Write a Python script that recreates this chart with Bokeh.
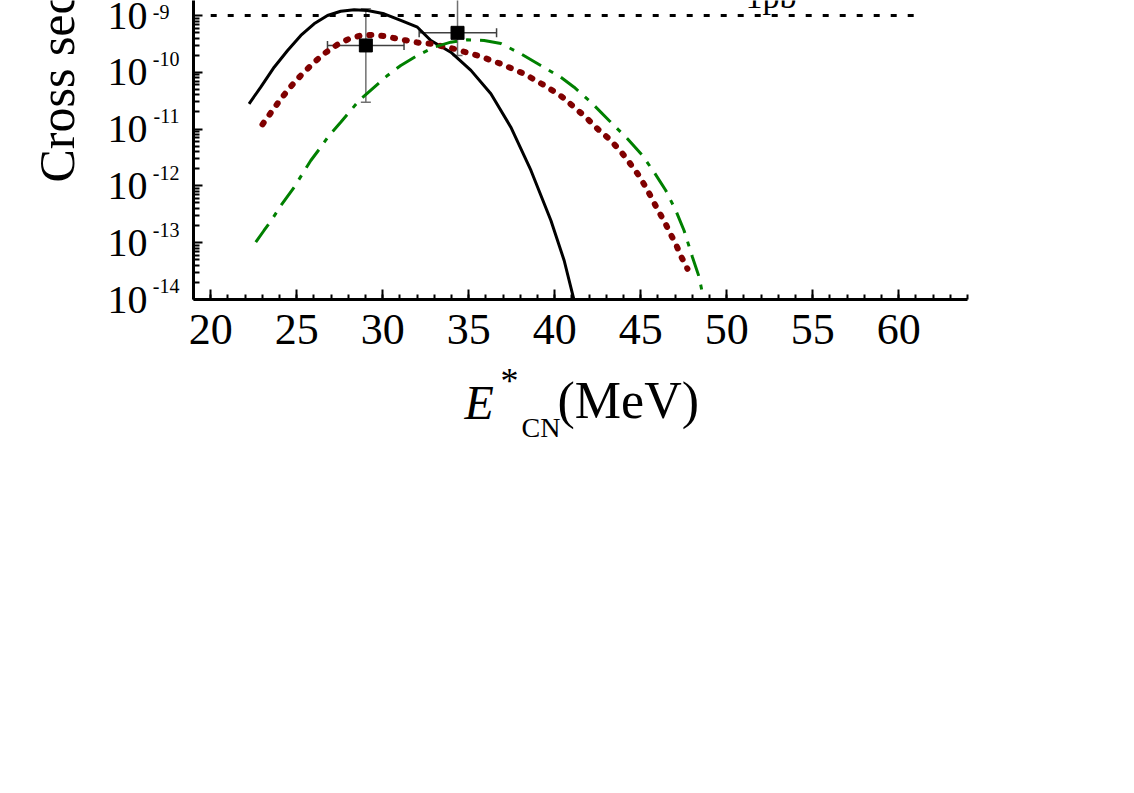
import math
from bokeh.plotting import figure
from bokeh.layouts import row, column
from bokeh.models import (Range1d, FixedTicker, CustomJSTickFormatter, Label, LogAxis,
                          LogScale, ColumnDataSource, Whisker, TeeHead)
from bokeh.core.properties import value
from bokeh.embed import file_html
from bokeh.resources import INLINE

# ---------------- data ----------------
black_x = [22.23, 22.91, 23.69, 24.47, 25.24, 26.01, 26.79, 27.56, 28.34, 29.12, 30.08,
           31.05, 32.02, 32.80, 33.96, 35.13, 36.29, 37.45, 38.62, 39.78, 40.55, 41.13]
black_y = [2.79e-11, 5.47e-11, 1.23e-10, 2.42e-10, 4.45e-10, 7.14e-10, 1.00e-9, 1.19e-9,
           1.26e-9, 1.22e-9, 1.07e-9, 8.17e-10, 6.22e-10, 3.63e-10, 2.26e-10, 1.08e-10,
           4.18e-11, 1.08e-11, 1.87e-12, 2.46e-13, 4.86e-14, 9.6e-15]

red_x = [23.01, 23.59, 24.08, 24.66, 25.24, 25.92, 26.59, 27.37, 28.05, 28.73, 29.41,
         30.08, 30.86, 32.12, 32.80, 34.15, 35.51, 36.87, 38.22, 39.58, 40.45, 41.13,
         41.81, 42.49, 43.16, 43.80, 44.33, 44.85, 45.30, 45.63, 46.01, 46.40, 46.71,
         47.06, 47.37, 47.72]
red_y = [1.21e-11, 2.12e-11, 3.41e-11, 5.62e-11, 8.79e-11, 1.41e-10, 2.12e-10, 3.08e-10,
         3.89e-10, 4.45e-10, 4.57e-10, 4.36e-10, 3.89e-10, 3.30e-10, 3.18e-10, 2.59e-10,
         1.98e-10, 1.41e-10, 9.42e-11, 5.47e-11, 3.65e-11, 2.43e-11, 1.62e-11, 1.01e-11,
         6.75e-12, 4.20e-12, 2.61e-12, 1.59e-12, 9.48e-13, 6.17e-13, 3.69e-13, 2.30e-13,
         1.47e-13, 9.18e-14, 5.56e-14, 3.47e-14]

green_x = [22.62, 23.10, 23.59, 24.08, 24.85, 25.82, 26.40, 26.88, 27.56, 28.63, 30.28,
           31.05, 32.02, 32.99, 33.96, 34.93, 35.90, 36.87, 38.03, 39.19, 40.35, 41.13,
           42.10, 43.16, 44.23, 45.10, 45.78, 46.46, 47.04, 47.52, 48.01, 48.40, 48.65]
green_y = [1.02e-13, 1.64e-13, 2.64e-13, 4.52e-13, 9.48e-13, 2.80e-12, 4.80e-12, 7.71e-12,
           1.32e-11, 3.19e-11, 8.79e-11, 1.32e-10, 1.98e-10, 2.77e-10, 3.39e-10, 3.73e-10,
           3.63e-10, 3.21e-10, 2.12e-10, 1.32e-10, 8.20e-11, 5.47e-11, 2.98e-11, 1.42e-11,
           6.75e-12, 3.43e-12, 1.74e-12, 8.30e-13, 3.69e-13, 1.64e-13, 5.56e-14, 2.47e-14,
           1.03e-14]

exp_x = [29.02, 34.35]
exp_y = [2.97e-10, 4.95e-10]
exp_x_lo = [26.79, 32.12]
exp_x_hi = [31.24, 36.62]
exp_y_lo = [2.98e-11, 1.98e-10]
exp_y_hi = [1.31e-9, 3.0e-9]

pb_x = [20.0, 61.0]
pb_y = [1e-9, 1e-9]
pb_label = ["1pb"]
pb_label_x = [51.1]
pb_label_y = [1.0e-9]

x_ticks = [20, 25, 30, 35, 40, 45, 50, 55, 60]
x_minor = list(range(19, 65))
y_exponents = [-14, -13, -12, -11, -10, -9]

y_title = "Cross section (b)"
x_title_parts = ["E", "*", "CN", "(MeV)"]

FONT = "Liberation Serif"
Y_TOP = 10 ** -8.736
SUP_SHIFT = 10 ** 0.229

# ---------------- main plot ----------------
p = figure(width=1035, height=367, output_backend="svg", toolbar_location=None,
           x_range=Range1d(19, 64), y_range=Range1d(1e-14, Y_TOP),
           y_axis_type="log", min_border_left=110, min_border_right=151,
           min_border_top=0, min_border_bottom=68)
p.outline_line_color = None
p.xgrid.visible = False
p.ygrid.visible = False
p.background_fill_color = "white"
p.border_fill_color = "white"

xa = p.xaxis[0]
xa.ticker = FixedTicker(ticks=x_ticks, minor_ticks=x_minor)
xa.axis_line_width = 3
xa.major_tick_in = 10
xa.major_tick_out = 0
xa.minor_tick_in = 5
xa.minor_tick_out = 0
xa.major_tick_line_width = 2
xa.minor_tick_line_width = 2
xa.major_label_text_font = FONT
xa.major_label_text_font_size = "44px"
xa.major_label_standoff = 15
xa.major_label_text_color = "black"

decades = [10.0 ** e for e in y_exponents]

# axis next to the frame: line and ticks only
ya = p.yaxis[0]
ya.ticker = FixedTicker(ticks=decades,
                        minor_ticks=[m * 10.0 ** e for e in y_exponents + [-8] for m in range(2, 10)])
ya.formatter = CustomJSTickFormatter(code='return "";')
ya.axis_line_width = 3
ya.major_tick_in = 9
ya.major_tick_out = 0
ya.minor_tick_in = 6
ya.minor_tick_out = 0
ya.major_tick_line_width = 2
ya.minor_tick_line_width = 2
ya.major_label_standoff = 0

# exponents (raised, small)
p.extra_y_ranges = {"sup": Range1d(1e-14 / SUP_SHIFT, Y_TOP / SUP_SHIFT)}
p.extra_y_scales = {"sup": LogScale()}
sup_axis = LogAxis(y_range_name="sup", ticker=FixedTicker(ticks=decades, minor_ticks=[]),
                   formatter=CustomJSTickFormatter(code="""
const s = String(Math.round(Math.log10(tick)));
return s.length < 3 ? s + "\\u00A0\\u00A0" : s;
"""),
                   axis_line_color=None, major_tick_line_color=None,
                   minor_tick_line_color=None, major_label_standoff=8,
                   major_label_text_font=FONT, major_label_text_font_size="20px",
                   major_label_text_color="black")
p.add_layout(sup_axis, "left")

# mantissa "10"
ten_axis = LogAxis(ticker=FixedTicker(ticks=decades, minor_ticks=[]),
                   formatter=CustomJSTickFormatter(code='return "10";'),
                   axis_line_color=None, major_tick_line_color=None,
                   minor_tick_line_color=None, major_label_standoff=-4,
                   major_label_text_font=FONT, major_label_text_font_size="40px",
                   major_label_text_color="black")
p.add_layout(ten_axis, "left")

# curves
p.line(black_x, black_y, line_color="black", line_width=3)
p.line(red_x, red_y, line_color="#800000", line_width=6, line_dash="2 10", line_cap="round")
p.line(green_x, green_y, line_color="#008000", line_width=3, line_dash="22 9 5 9")

# 1 pb line
p.line(pb_x, pb_y, line_color="black", line_width=3, line_dash="6 11")
p.text(x=pb_label_x, y=pb_label_y, text=pb_label, text_font=value(FONT),
       text_font_size="34px", text_baseline="bottom", text_align="left",
       text_color="black")

# experimental points
src = ColumnDataSource(dict(x=exp_x, y=exp_y, xlo=exp_x_lo, xhi=exp_x_hi,
                            ylo=exp_y_lo, yhi=exp_y_hi))
p.add_layout(Whisker(source=src, base="x", lower="ylo", upper="yhi", dimension="height",
                     line_color="#707070", line_width=1.5,
                     lower_head=TeeHead(size=10, line_color="#707070", line_width=1.5),
                     upper_head=TeeHead(size=10, line_color="#707070", line_width=1.5)))
p.add_layout(Whisker(source=src, base="y", lower="xlo", upper="xhi", dimension="width",
                     line_color="#404040", line_width=1.5,
                     lower_head=TeeHead(size=9, line_color="#404040", line_width=1.5),
                     upper_head=TeeHead(size=9, line_color="#404040", line_width=1.5)))
p.scatter(exp_x, exp_y, marker="square", size=13, fill_color="black", line_color="black")


def text_panel(width, height):
    f = figure(width=width, height=height, output_backend="svg", toolbar_location=None,
               x_range=Range1d(0, 1), y_range=Range1d(0, 1),
               x_axis_location=None, y_axis_location=None, min_border=0)
    f.outline_line_color = None
    f.xgrid.visible = False
    f.ygrid.visible = False
    f.background_fill_color = "white"
    f.border_fill_color = "white"
    return f


def label(x, y, text, size, **kw):
    return Label(x=x, y=y, x_units="screen", y_units="screen", text=text,
                 text_font=FONT, text_font_size=size, text_align="left",
                 text_baseline="middle", text_color="black", **kw)


# y title panel (left of the plot)
py = text_panel(83, 367)
py.add_layout(label(56, 185, y_title, "50px", angle=math.pi / 2))

# x title panel (below the plot); its frame lines up with the plot frame
px = text_panel(1035, 80)
px.add_layout(label(271, 45, x_title_parts[0], "48px", text_font_style="italic"))
px.add_layout(label(307, 67, x_title_parts[1], "36px"))
px.add_layout(label(328, 20, x_title_parts[2], "28px"))
px.add_layout(label(364, 47, x_title_parts[3], "52px"))

layout = row(py, column(p, px))
open("out.html", "w").write(file_html(layout, INLINE))
